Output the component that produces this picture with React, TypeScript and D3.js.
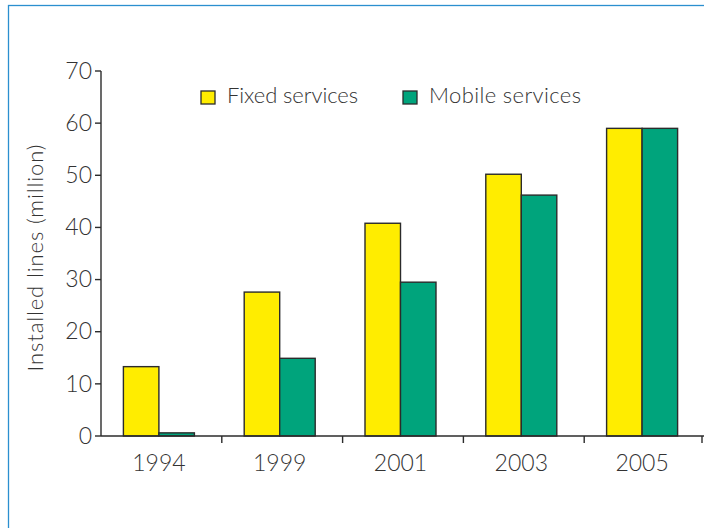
import React from "react";
import * as d3 from "d3";

const categories = ["1994", "1999", "2001", "2003", "2005"];
const fixedValues = [13.3, 27.6, 40.8, 50.2, 59.0];
const mobileValues = [0.6, 14.9, 29.5, 46.2, 59.0];
const yTicks = [0, 10, 20, 30, 40, 50, 60, 70];
const seriesNames = ["Fixed services", "Mobile services"];
const seriesColors = ["#FFED00", "#00A47C"];
const yLabel = "Installed lines (million)";

const W = 704;
const H = 528;
const FONT = "Lato, 'Open Sans', sans-serif";
const TEXT = "#333";

export default function App() {
  const x = d3.scaleBand<string>().domain(categories).range([101, 705]).padding(0);
  const y = d3.scaleLinear().domain([0, 70]).range([436, 71]);
  const barW = 35.5;
  const shift = -2.5;
  const series = [fixedValues, mobileValues];
  const boundaries = categories.slice(1).map((c) => x(c)!).concat([x(categories[categories.length - 1])! + x.bandwidth() - 3]);

  return (
    <svg width={W} height={H} style={{ position: "absolute", left: 0, top: 0 }} fontFamily={FONT} fontWeight={300}>
      <rect x={0} y={0} width={W} height={H} fill="#fff" />
      <rect x={8.5} y={5.5} width={900} height={700} fill="none" stroke="#2B8FCF" strokeWidth={1.3} />

      {/* bars */}
      {categories.map((c, i) => {
        const cx = x(c)! + x.bandwidth() / 2 + shift;
        return series.map((vals, s) => (
          <rect
            key={c + s}
            x={cx - barW + s * barW}
            y={y(vals[i])}
            width={barW}
            height={y(0) - y(vals[i])}
            fill={seriesColors[s]}
            stroke="#2b2b2b"
            strokeWidth={1.4}
          />
        ));
      })}

      {/* y axis */}
      <line x1={101} x2={101} y1={y(70)} y2={y(0)} stroke="#2b2b2b" strokeWidth={1.4} />
      {yTicks.map((t) => (
        <g key={t}>
          <line x1={95} x2={101} y1={y(t)} y2={y(t)} stroke="#2b2b2b" strokeWidth={1.4} />
          <text x={92} y={y(t) + 2} textAnchor="end" dominantBaseline="middle" fontSize={23} fill={TEXT}>
            {t}
          </text>
        </g>
      ))}

      {/* x axis */}
      <line x1={101} x2={W} y1={y(0)} y2={y(0)} stroke="#2b2b2b" strokeWidth={1.4} />
      {boundaries.map((b, i) => (
        <line key={i} x1={b} x2={b} y1={y(0)} y2={y(0) + 7} stroke="#2b2b2b" strokeWidth={1.4} />
      ))}
      {categories.map((c) => (
        <text
          key={c}
          x={x(c)! + x.bandwidth() / 2 + shift}
          y={465}
          textAnchor="middle"
          dominantBaseline="middle"
          fontSize={23}
          fill={TEXT}
        >
          {c}
        </text>
      ))}

      {/* y label */}
      <text
        transform={`translate(38,258) rotate(-90)`}
        textAnchor="middle"
        dominantBaseline="middle"
        fontSize={22}
        fill={TEXT}
        textLength={227}
        lengthAdjust="spacing"
      >
        {yLabel}
      </text>

      {/* legend */}
      {seriesNames.map((n, i) => {
        const lx = i === 0 ? 201 : 403;
        return (
          <g key={n}>
            <rect x={lx} y={91} width={14} height={13} fill={seriesColors[i]} stroke="#2b2b2b" strokeWidth={1.3} />
            <text
              x={lx + 26}
              y={98}
              dominantBaseline="middle"
              fontSize={22}
              fill={TEXT}
              textLength={i === 0 ? 131 : 152}
              lengthAdjust="spacing"
            >
              {n}
            </text>
          </g>
        );
      })}
    </svg>
  );
}
